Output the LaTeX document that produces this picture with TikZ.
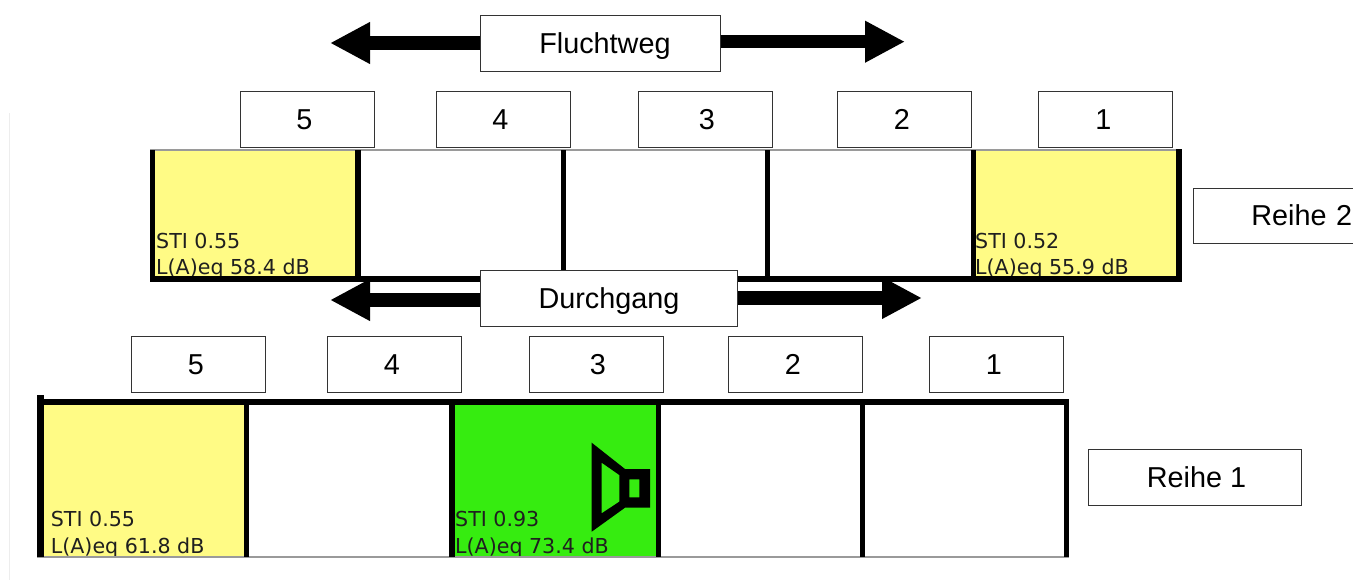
\documentclass[tikz,border=0pt]{standalone}
\usepackage{fontspec}
\setmainfont{Liberation Sans}
\newfontfamily\celfont{DejaVu Sans}
\usetikzlibrary{arrows.meta}
\definecolor{celyellow}{HTML}{FFFB85}
\definecolor{celgreen}{HTML}{36EC10}
\definecolor{thingray}{HTML}{9A9A9A}
\tikzset{
  x=1pt,y=-1pt,
  labelbox/.style={draw=black!80,line width=0.9pt,fill=white,font=\fontsize{28.8}{32}\selectfont,inner sep=0pt,text height=20pt,text depth=0pt},
  numbox/.style={labelbox,minimum width=134pt,minimum height=56pt,anchor=north west},
  celltext/.style={font=\celfont\fontsize{20.6}{24}\selectfont,text=black!88,anchor=base west,inner sep=0pt},
  wall/.style={fill=black},
  fatarrow/.style={line width=13.5pt,-{Triangle[length=40pt,width=39pt]}},
}
\begin{document}
\begin{tikzpicture}
\useasboundingbox (0,0) rectangle (1353,588);
\draw[black!7,line width=0.8pt] (9.5,113) -- (9.5,580);
% row 2 cells
\fill[celyellow] (155,150) rectangle (356,277);
\fill[celyellow] (975,150) rectangle (1177,277);
\node[celltext] (a1) at (156,249) {STI 0.55};
\node[celltext] (a2) at (156,275) {L(A)eq 58.4 dB};
\node[celltext] (b1) at (975,249) {STI 0.52};
\node[celltext] (b2) at (975,275) {L(A)eq 55.9 dB};
\draw[thingray,line width=1.2pt] (150,150) -- (1181,150);
\fill[wall] (149.5,150) rectangle (155,282);
\fill[wall] (355,150) rectangle (360.5,282);
\fill[wall] (560.7,150) rectangle (566,282);
\fill[wall] (765,150) rectangle (770.3,282);
\fill[wall] (970.7,150) rectangle (976,282);
\fill[wall] (1176,149) rectangle (1181.7,282);
\fill[wall] (149.5,276) rectangle (1181.7,282);
% row 1 cells
\fill[celyellow] (44,404) rectangle (244,557);
\fill[celgreen] (455,404) rectangle (656,557);
\node[celltext] (c1) at (50.7,526.7) {STI 0.55};
\node[celltext] (c2) at (50.7,553) {L(A)eq 61.8 dB};
\node[celltext] (d1) at (455,526.7) {STI 0.93};
\node[celltext] (d2) at (455,553) {L(A)eq 73.4 dB};
\draw[thingray,line width=1.2pt] (37.3,557) -- (1069,557);
\fill[wall] (37.3,395) rectangle (44.3,557);
\fill[wall] (243.5,399) rectangle (249,557);
\fill[wall] (449.3,399) rectangle (455,557);
\fill[wall] (655.7,399) rectangle (660.7,557);
\fill[wall] (859.5,399) rectangle (864.5,557);
\fill[wall] (1064,399) rectangle (1069,557);
\fill[wall] (37.3,399) rectangle (1069,405);
% speaker
\fill[black,even odd rule]
  (591.7,442.7) -- (625,469) -- (650,469) -- (650,507.7) -- (625,507.7) -- (591.7,531.7) -- cycle
  (601.7,462.7) -- (619.3,475) -- (619.3,501.7) -- (601.7,513.3) -- cycle
  (629.3,479.3) -- (639.3,479.3) -- (639.3,497.3) -- (629.3,497.3) -- cycle;
% number boxes
\node[numbox] (t5) at (240,91) {\hspace*{-6pt}5};
\node[numbox] (t4) at (436,91) {\hspace*{-6pt}4};
\node[numbox] (t3) at (638,91) {\hspace*{3pt}3};
\node[numbox] (t2) at (837,91) {\hspace*{-5pt}2};
\node[numbox] (t1) at (1038,91) {\hspace*{-4pt}1};
\node[numbox] (u5) at (131,336) {\hspace*{-5pt}5};
\node[numbox] (u4) at (327,336) {\hspace*{-5pt}4};
\node[numbox] (u3) at (529,336) {\hspace*{3pt}3};
\node[numbox] (u2) at (728,336) {\hspace*{-5pt}2};
\node[numbox] (u1) at (929,336) {\hspace*{-5pt}1};
% title boxes
\node[labelbox,minimum width=240pt,minimum height=56pt,anchor=north west] (flucht) at (480,15) {\hspace*{9pt}Fluchtweg};
\node[labelbox,minimum width=257pt,minimum height=56pt,anchor=north west] (durch) at (480,270) {Durchgang};
\node[labelbox,minimum width=213pt,minimum height=56pt,anchor=north west] (r1) at (1088,449) {\hspace*{3pt}Reihe 1};
\node[font=\fontsize{28.8}{32}\selectfont,text height=20pt,text depth=0pt,minimum width=160pt,minimum height=55pt,anchor=north west,inner sep=0pt,text width=158pt,align=right] (r2) at (1193,188) {Reihe 2};
\draw[black!80,line width=0.9pt] (r2.north east) -- (r2.north west) -- (r2.south west) -- (r2.south east);
% arrows
\coordinate (fl) at (330,43);
\coordinate (fr) at (905,41.7);
\coordinate (dl) at (330,300);
\coordinate (dr) at (922,298);
\draw[fatarrow] (flucht.west |- fl) -- (fl);
\draw[fatarrow] (flucht.east |- fr) -- (fr);
\draw[fatarrow] (durch.west |- dl) -- (dl);
\draw[fatarrow] (durch.east |- dr) -- (dr);
\end{tikzpicture}
\end{document}
